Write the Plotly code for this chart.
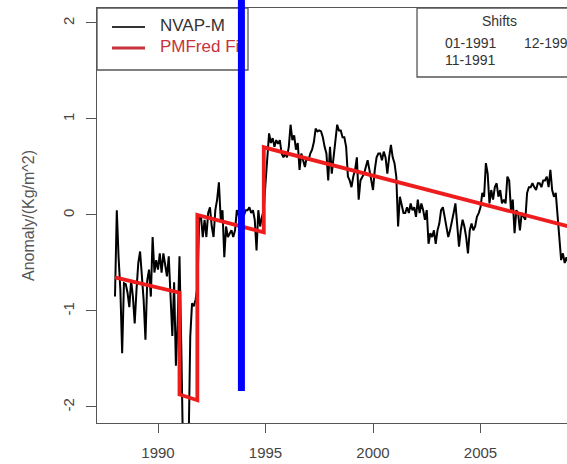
import numpy as np
import plotly.graph_objects as go

# ---- NVAP-M monthly anomalies (kg/m^2), Jan 1988 onwards ----
nvap_1988 = [-0.85, 0.05, -0.44, -0.78, -1.44, -0.71, -0.72, -0.81, -0.96, -0.68, -0.85, -1.13]
nvap_1989 = [-0.78, -0.50, -0.38, -0.60, -0.89, -1.30, -0.68, -0.57, -0.85, -0.23, -0.60, -0.47]
nvap_1990 = [-0.57, -0.40, -0.60, -0.40, -0.54, -0.64, -0.43, -0.85, -1.26, -0.70, -1.57, -1.10]
nvap_1991 = [-0.43, -1.37, -2.50, -2.60, -2.40, -2.50, -1.27, -0.92, -0.95, -0.88, -0.75, -0.03]
nvap_1992 = [-0.02, -0.23, -0.05, -0.23, 0.02, 0.08, -0.12, -0.23, 0.05, 0.16, 0.34, -0.05]
nvap_1993 = [0.05, -0.44, -0.12, -0.23, -0.20, -0.16, -0.23, -0.16, 0.05, 0.00, -0.10, -0.05]
nvap_1994 = [0.00, 0.05, 0.05, 0.08, 0.02, 0.05, -0.05, -0.37, 0.05, -0.12, -0.02, 0.05]
nvap_1995 = [0.33, 0.57, 0.85, 0.75, 0.80, 0.71, 0.78, 0.74, 0.78, 0.64, 0.60, 0.64]
nvap_1996 = [0.60, 0.71, 0.94, 0.78, 0.83, 0.68, 0.75, 0.47, 0.64, 0.57, 0.50, 0.60]
nvap_1997 = [0.57, 0.64, 0.68, 0.76, 0.90, 0.87, 0.88, 0.87, 0.81, 0.71, 0.64, 0.36]
nvap_1998 = [0.71, 0.43, 0.60, 0.81, 0.94, 0.88, 0.88, 0.81, 0.81, 0.71, 0.40, 0.36]
nvap_1999 = [0.29, 0.40, 0.47, 0.60, 0.16, 0.36, 0.40, 0.43, 0.50, 0.57, 0.47, 0.36]
nvap_2000 = [0.26, 0.47, 0.60, 0.64, 0.64, 0.57, 0.66, 0.60, 0.43, 0.60, 0.73, 0.60]
nvap_2001 = [0.54, 0.40, -0.12, 0.19, 0.12, 0.02, 0.02, 0.08, 0.02, 0.12, 0.05, 0.08]
nvap_2002 = [-0.02, 0.16, 0.02, 0.12, 0.05, -0.05, 0.05, -0.30, -0.19, -0.23, -0.16, -0.30]
nvap_2003 = [-0.16, -0.09, 0.05, 0.08, -0.02, -0.12, -0.23, -0.16, -0.05, 0.02, 0.12, -0.09]
nvap_2004 = [-0.33, -0.16, -0.05, -0.12, -0.23, -0.40, -0.16, -0.09, -0.16, -0.12, -0.02, 0.02]
nvap_2005 = [0.08, 0.23, 0.19, 0.54, 0.43, 0.12, 0.26, 0.16, 0.29, 0.33, 0.19, 0.26]
nvap_2006 = [0.12, 0.16, 0.12, 0.40, 0.36, 0.05, 0.16, -0.19, 0.05, 0.02, -0.16, 0.02]
nvap_2007 = [-0.02, -0.05, 0.23, 0.29, 0.29, 0.33, 0.29, 0.26, 0.33, 0.33, 0.29, 0.36]
nvap_2008 = [0.36, 0.40, 0.29, 0.47, 0.26, 0.19, 0.23, -0.02, -0.30, -0.47, -0.40, -0.50]
nvap_2009 = [-0.44, -0.50, -0.45]

start_year = 1988

# ---- PMFred piecewise fit (breakpoints) ----
fit_x = [1988.0, 1991.0, 1991.0, 1991.83, 1991.83, 1994.92, 1994.92, 2009.6]
fit_y = [-0.65, -0.81, -1.87, -1.93, 0.00, -0.18, 0.705, -0.148]

# ---- labels ----
x_ticks = [1990, 1995, 2000, 2005]
y_ticks = [-2, -1, 0, 1, 2]
y_title = "Anomaly/(Kg/m^2)"
legend_labels = ["NVAP-M", "PMFred Fit"]
shift_title = "Shifts"
shift_labels = ["01-1991", "12-1994", "11-1991"]
marker_year = 1993.88

nvap = (nvap_1988 + nvap_1989 + nvap_1990 + nvap_1991 + nvap_1992 + nvap_1993 +
        nvap_1994 + nvap_1995 + nvap_1996 + nvap_1997 + nvap_1998 + nvap_1999 +
        nvap_2000 + nvap_2001 + nvap_2002 + nvap_2003 + nvap_2004 + nvap_2005 +
        nvap_2006 + nvap_2007 + nvap_2008 + nvap_2009)
months = start_year + np.arange(len(nvap)) / 12.0

FONT = "Liberation Sans, Arial, Helvetica, sans-serif"
AX = "#555555"

fig = go.Figure()
fig.add_trace(go.Scatter(x=months, y=nvap, mode="lines",
                         line=dict(color="black", width=2), showlegend=False,
                         hoverinfo="skip"))
fig.add_trace(go.Scatter(x=fit_x, y=fit_y, mode="lines",
                         line=dict(color="#ee1c1c", width=3.8), showlegend=False,
                         hoverinfo="skip"))
# legend labels on an overlay [0,1] axis pair (so the blue marker can cover them)
fig.add_trace(go.Scatter(x=[0.134, 0.134], y=[0.9542, 0.9036], mode="text",
                         text=legend_labels, textposition="middle right",
                         textfont=dict(family=FONT, size=17, color=["#333333", "#c8323c"]),
                         xaxis="x2", yaxis="y2", showlegend=False, cliponaxis=False,
                         hoverinfo="skip"))

shapes = [
    # legend box
    dict(type="rect", xref="paper", yref="paper", x0=0, x1=0.3213, y0=0.8506, y1=1.0,
         line=dict(color=AX, width=1.3), fillcolor="white", layer="below"),
    dict(type="line", xref="paper", yref="paper", x0=0.0319, x1=0.1021, y0=0.9542, y1=0.9542,
         line=dict(color="#333333", width=1.8), layer="below"),
    dict(type="line", xref="paper", yref="paper", x0=0.0319, x1=0.1021, y0=0.9036, y1=0.9036,
         line=dict(color="#c8323c", width=3), layer="below"),
    # shifts box
    dict(type="rect", xref="paper", yref="paper", x0=0.6809, x1=1.2, y0=0.8337, y1=1.0,
         line=dict(color=AX, width=1.3), fillcolor="white", layer="below"),
    # blue marker line
    dict(type="line", xref="x", yref="paper", x0=marker_year, x1=marker_year,
         y0=0.0771, y1=1.03, line=dict(color="#0000ff", width=7), layer="above"),
]

annotations = [
    dict(text=shift_title, x=0.857, y=0.969, xref="paper", yref="paper",
         xanchor="center", yanchor="middle", showarrow=False,
         font=dict(family=FONT, size=14, color="#333333")),
    dict(text=shift_labels[0], x=0.736, y=0.9157, xref="paper", yref="paper",
         xanchor="left", yanchor="middle", showarrow=False,
         font=dict(family=FONT, size=14, color="#333333")),
    dict(text=shift_labels[1], x=0.904, y=0.9157, xref="paper", yref="paper",
         xanchor="left", yanchor="middle", showarrow=False,
         font=dict(family=FONT, size=14, color="#333333")),
    dict(text=shift_labels[2], x=0.736, y=0.8747, xref="paper", yref="paper",
         xanchor="left", yanchor="middle", showarrow=False,
         font=dict(family=FONT, size=14, color="#333333")),
]

fig.update_layout(
    template="none",
    width=567, height=464,
    margin=dict(l=97, r=0, t=8, b=41, pad=0),
    paper_bgcolor="white", plot_bgcolor="white",
    font=dict(family=FONT, size=15, color="#444444"),
    showlegend=False,
    shapes=shapes, annotations=annotations,
    xaxis=dict(range=[1987.163, 2009.023], tickvals=x_ticks, ticktext=[str(v) for v in x_ticks],
               showline=True, linecolor=AX, linewidth=1.3, mirror=True,
               ticks="outside", ticklen=9, tickwidth=1.3, tickcolor=AX,
               tickfont=dict(family=FONT, size=15, color="#444444"),
               showgrid=False, zeroline=False, automargin=False, ticklabelstandoff=7),
    yaxis=dict(range=[-2.167, 2.156], tickvals=y_ticks, ticktext=[str(v) for v in y_ticks],
               showline=True, linecolor=AX, linewidth=1.3, mirror=False,
               ticks="outside", ticklen=10, tickwidth=1.3, tickcolor=AX, tickangle=-90,
               tickfont=dict(family=FONT, size=15, color="#444444"),
               showgrid=False, zeroline=False, automargin=False, ticklabelstandoff=6,
               title=dict(text=y_title, standoff=21,
                          font=dict(family=FONT, size=16, color="#555555"))),
    xaxis2=dict(overlaying="x", range=[0, 1], visible=False, fixedrange=True),
    yaxis2=dict(overlaying="y", range=[0, 1], visible=False, fixedrange=True),
)

fig.write_html("out.html")
